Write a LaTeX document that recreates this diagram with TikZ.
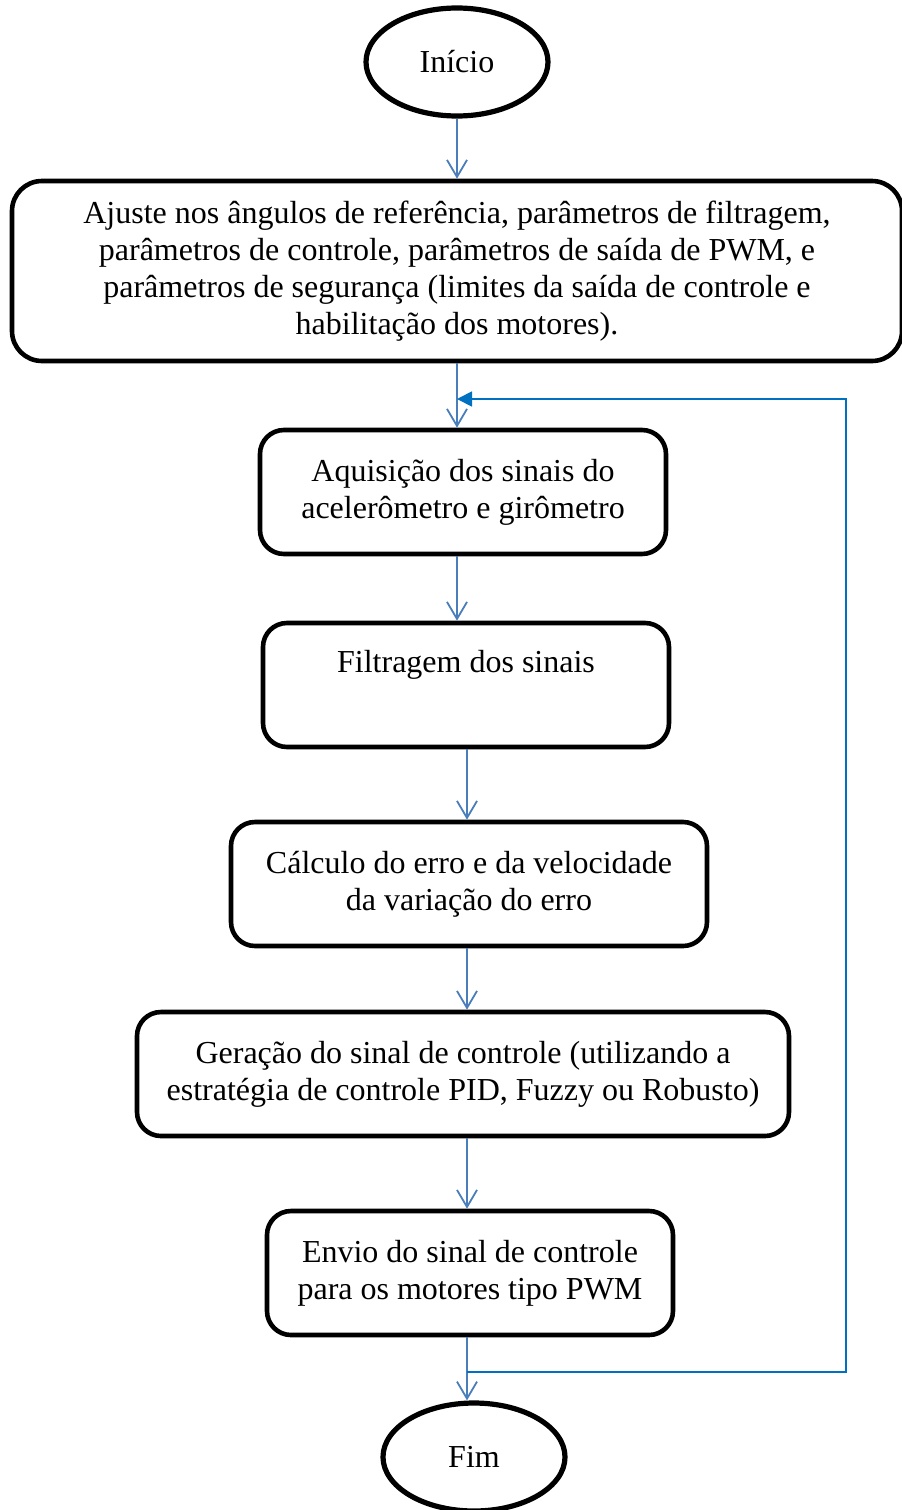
\documentclass[tikz,border=0pt]{standalone}
\usepackage{fontspec}
\setmainfont{Liberation Serif}
\usetikzlibrary{shapes.geometric,arrows.meta}
\begin{document}
\begin{tikzpicture}[
  x=0.5pt, y=-0.5pt,
  font=\fontsize{16}{18.5}\selectfont,
  terminal/.style={ellipse, draw, line width=2.6pt, minimum width=91pt, minimum height=54pt, inner sep=0pt},
  block/.style={rectangle, draw, line width=2.3pt, rounded corners=12pt, align=center, inner sep=0pt},
  flow/.style={-{Straight Barb[length=8.5pt,width=10pt]}, line width=0.9pt, color={rgb,255:red,74;green,126;blue,187}},
  loop/.style={-{Triangle[length=7.5pt,width=7.5pt]}, line width=0.9pt, color={rgb,255:red,0;green,112;blue,192}}
]
\useasboundingbox (0,0) rectangle (901,1510);

% Start
\node (inicio) at (457,62) [terminal] {Início};

% Setup block
\node (ajuste) at (457,271) [block, rounded corners=15pt, minimum width=445pt, minimum height=90pt] {Ajuste nos ângulos de referência, parâmetros de filtragem,\\parâmetros de controle, parâmetros de saída de PWM, e\\parâmetros de segurança (limites da saída de controle e\\habilitação dos motores).};

% Control loop
\node (aquis) at (463,492) [block, minimum width=203pt, minimum height=62pt] {Aquisição dos sinais do\\acelerômetro e girômetro};
\node (filtro) at (466,685) [block, minimum width=203pt, minimum height=62pt] {Filtragem dos sinais\\ \strut};
\node (erro) at (469,884) [block, minimum width=238pt, minimum height=62pt] {Cálculo do erro e da velocidade\\da variação do erro};
\node (geracao) at (463,1074) [block, minimum width=326pt, minimum height=62pt] {Geração do sinal de controle (utilizando a\\estratégia de controle PID, Fuzzy ou Robusto)};
\node (envio) at (470,1273) [block, minimum width=203pt, minimum height=62pt] {Envio do sinal de controle\\para os motores tipo PWM};

% End
\node (fim) at (474,1457) [terminal] {Fim};

% Connections
\draw[flow] (inicio.south) -- (inicio.south |- ajuste.north);
\draw[flow] (ajuste.south -| inicio) -- (aquis.north -| inicio);
\draw[flow] (aquis.south -| inicio) -- (filtro.north -| inicio);
\draw[flow] (filtro.south -| envio.south) ++(-3,0) coordinate (c1) -- (c1 |- erro.north);
\draw[flow] (erro.south -| c1) -- (c1 |- geracao.north);
\draw[flow] (geracao.south -| c1) -- (c1 |- envio.north);
\draw[flow] (envio.south -| c1) -- (c1 |- fim.north);

% Feedback
\coordinate (ret) at (467,1372);
\coordinate (back) at (457,399);
\draw[loop] (ret) -- (846,1372) -- (846,399) -- (back);

\end{tikzpicture}
\end{document}
